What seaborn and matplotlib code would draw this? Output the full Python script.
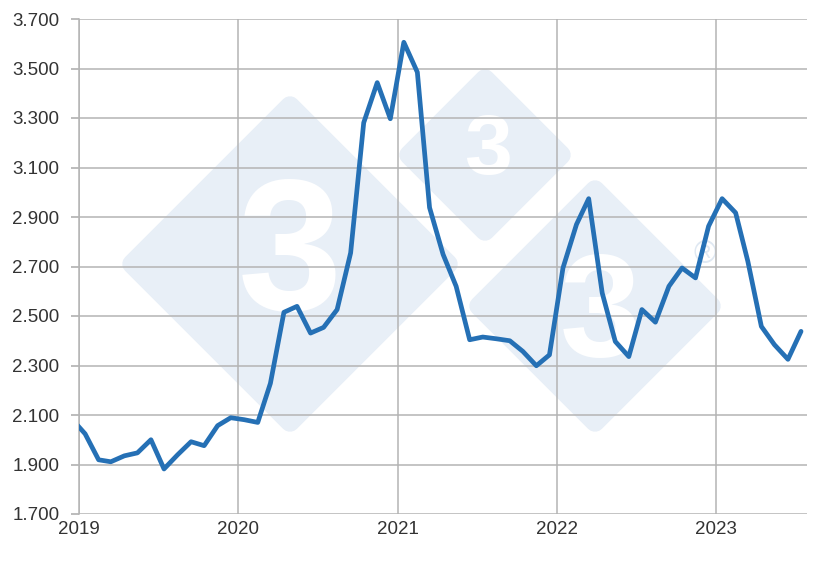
import pandas as pd
import matplotlib
matplotlib.use("Agg")
import matplotlib.pyplot as plt
import matplotlib.dates as mdates
import matplotlib.ticker as mticker
from matplotlib.patches import Polygon
import seaborn as sns

# monthly values, mid-month, Dec 2018 .. Jul 2023
months = pd.date_range("2018-12-01", "2023-07-01", freq="MS") + pd.Timedelta(days=14)
prices = [
    2085,
    2024, 1919, 1911, 1935, 1947, 2000, 1882, 1939, 1992, 1976, 2057, 2089,
    2081, 2070, 2228, 2515, 2539, 2431, 2454, 2526, 2755, 3281, 3443, 3297,
    3606, 3485, 2938, 2749, 2620, 2404, 2415, 2408, 2400, 2357, 2299, 2343,
    2694, 2870, 2974, 2593, 2397, 2336, 2526, 2475, 2620, 2694, 2654, 2863,
    2974, 2917, 2721, 2458, 2384, 2325, 2438,
]
y_ticks = list(range(1700, 3701, 200))

df = pd.DataFrame({"date": months, "price": prices})

sns.set_theme(style="white")
plt.rcParams["font.family"] = ["Liberation Sans", "DejaVu Sans"]

fig = plt.figure(figsize=(8.2, 5.66), dpi=100)
ax = fig.add_axes([79 / 820, 1 - 514 / 566, (806.7 - 79) / 820, (514 - 19) / 566])
ax.set_facecolor("white")

# faint watermark logo behind the data (figure pixel coords)
wm = "#e8eff7"
def diamond(cx, cy, r):
    pts = [((cx - r) / 820, 1 - cy / 566), (cx / 820, 1 - (cy - r) / 566),
           ((cx + r) / 820, 1 - cy / 566), (cx / 820, 1 - (cy + r) / 566)]
    ax.add_patch(Polygon(pts, closed=True, transform=fig.transFigure, facecolor=wm,
                         edgecolor=wm, linewidth=14, joinstyle="round", zorder=0.1))

diamond(290, 264, 158)
diamond(485, 155, 76)
diamond(595, 306, 116)
for cx, cy, fs in [(290, 262, 135), (488, 152, 62), (600, 318, 105)]:
    ax.text(cx / 820, 1 - cy / 566, "3", color="white", fontsize=fs, fontweight="bold",
            ha="center", va="center", zorder=0.2, transform=fig.transFigure)
ax.text(705 / 820, 1 - 255 / 566, "®", color="#dfe8f2", fontsize=22, ha="center",
        va="center", zorder=0.2, transform=fig.transFigure)

sns.lineplot(data=df, x="date", y="price", ax=ax, color="#2570b5", linewidth=3.4,
             zorder=3)

ax.set_xlim(pd.Timestamp("2019-01-01"), pd.Timestamp("2023-07-28"))
ax.set_ylim(1700, 3700)
ax.set_yticks(y_ticks)
ax.yaxis.set_major_formatter(mticker.FuncFormatter(lambda v, p: f"{v:,.0f}".replace(",", ".")))
ax.xaxis.set_major_locator(mdates.YearLocator())
ax.xaxis.set_major_formatter(mdates.DateFormatter("%Y"))

ax.grid(True, color="#b4b4b4", linewidth=1.1)
ax.set_axisbelow(True)
for s in ["top", "right", "bottom"]:
    ax.spines[s].set_visible(False)
ax.spines["left"].set_color("#b4b4b4")
ax.spines["left"].set_linewidth(1.1)
ax.tick_params(axis="y", length=6, color="#b4b4b4", left=True, labelsize=13.5,
               labelcolor="#333333", pad=8)
ax.tick_params(axis="x", length=0, labelsize=13.5, labelcolor="#333333", pad=5)
ax.set_xlabel("")
ax.set_ylabel("")

fig.savefig("out.png", dpi=100)
